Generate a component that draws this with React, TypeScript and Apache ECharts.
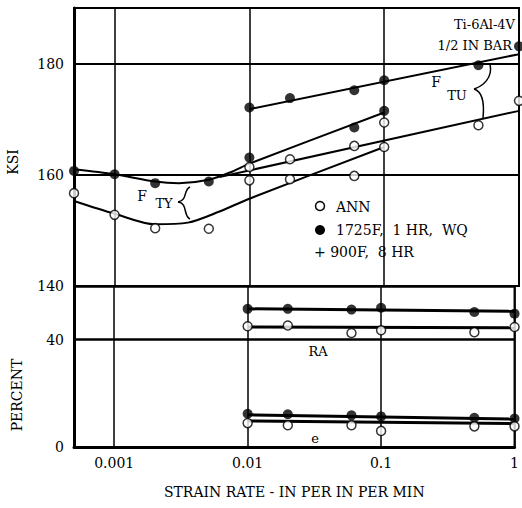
import React, { useEffect, useRef } from 'react';
import * as echarts from 'echarts';

// ---- Strength (KSI) data ----
const ftuHtRate = [0.01, 0.02, 0.06, 0.1, 0.5, 1];
const ftuHtKsi = [172.1, 173.8, 175.2, 177.0, 179.7, 183.1];
const ftyHtRate = [0.0005, 0.001, 0.002, 0.005, 0.01, 0.06, 0.1];
const ftyHtKsi = [160.7, 160.1, 158.5, 158.8, 163.1, 168.5, 171.5];
const ftuAnnRate = [0.01, 0.02, 0.06, 0.1, 0.5, 1];
const ftuAnnKsi = [161.4, 162.8, 165.2, 169.4, 168.9, 173.3];
const ftyAnnRate = [0.0005, 0.001, 0.002, 0.005, 0.01, 0.02, 0.06, 0.1];
const ftyAnnKsi = [156.7, 152.8, 150.4, 150.3, 159.0, 159.2, 159.8, 165.0];

// ---- Faired curves (KSI) ----
const ftuHtFitRate = [0.01, 1];
const ftuHtFitKsi = [171.8, 181.7];
const ftyHtFitRate = [0.0005, 0.001, 0.002, 0.003, 0.005, 0.0075, 0.01, 0.1];
const ftyHtFitKsi = [161.0, 160.1, 158.8, 158.5, 159.1, 160.6, 162.0, 171.2];
const ftuAnnFitRate = [0.006, 1];
const ftuAnnFitKsi = [159.6, 171.5];
const ftyAnnFitRate = [0.0005, 0.001, 0.002, 0.0035, 0.006, 0.01, 0.1];
const ftyAnnFitKsi = [155.3, 153.0, 151.1, 151.4, 153.4, 155.7, 165.0];

// ---- Ductility (PERCENT) data ----
const ductRate = [0.01, 0.02, 0.06, 0.1, 0.5, 1];
const raHt = [51.5, 51.5, 51.2, 51.9, 50.3, 49.7];
const raAnn = [45.0, 45.3, 42.5, 43.5, 42.8, 44.7];
const elHt = [12.4, 12.2, 11.8, 11.4, 10.9, 10.6];
const elAnn = [8.9, 8.1, 8.1, 6.0, 7.7, 7.7];
const ductFitRate = [0.01, 1];
const raHtFit = [51.5, 50.6];
const raAnnFit = [44.7, 44.4];
const elHtFit = [12.0, 10.4];
const elAnnFit = [9.7, 8.7];

// ---- Tick labels ----
const xTickLabels: Record<string, string> = { '-3': '0.001', '-2': '0.01', '-1': '0.1', '0': '1' };
const ksiTicks = [140, 160, 180];
const pctTicks = [0, 40];

const FONT = 'DejaVu Serif';

const zip = (xs: number[], ys: number[]) => xs.map((x, i) => [x, ys[i]]);

function fit(xs: number[], ys: number[], gi: number, width: number, smooth: number | boolean = false) {
  return {
    type: 'line',
    xAxisIndex: gi,
    yAxisIndex: gi,
    data: zip(xs, ys),
    symbol: 'none',
    showSymbol: false,
    smooth,
    silent: true,
    lineStyle: { color: '#000', width },
    z: 3,
  };
}

function dots(xs: number[], ys: number[], gi: number, filled: boolean) {
  return {
    type: 'scatter',
    xAxisIndex: gi,
    yAxisIndex: gi,
    data: zip(xs, ys),
    symbol: 'circle',
    symbolSize: filled ? 10 : 9,
    itemStyle: filled
      ? { color: '#000' }
      : { color: '#fff', borderColor: '#000', borderWidth: 1.5 },
    z: 5,
  };
}

function txt(text: string, x: number, y: number, size: number, align = 'left', rotation = 0) {
  return {
    type: 'text',
    x,
    y,
    rotation,
    z: 10,
    style: {
      text,
      x: 0,
      y: 0,
      fill: '#000',
      fontFamily: FONT,
      fontSize: size,
      align,
      textAlign: align,
      verticalAlign: 'middle',
      textVerticalAlign: 'middle',
    },
  };
}

function curve(x1: number, y1: number, cpx1: number, cpy1: number, cpx2: number, cpy2: number, x2: number, y2: number) {
  return {
    type: 'bezierCurve',
    z: 10,
    shape: { x1, y1, cpx1, cpy1, cpx2, cpy2, x2, y2 },
    style: { stroke: '#000', lineWidth: 1.5, fill: null },
  };
}

export default function App() {
  const ref = useRef<HTMLDivElement>(null);
  useEffect(() => {
    if (!ref.current) return;
    const chart = echarts.init(ref.current, undefined, { renderer: 'svg' });
    const labelStyle = { color: '#000', fontFamily: FONT, fontSize: 14 };
    const xBase = {
      type: 'log',
      logBase: 10,
      min: 0.0005,
      max: 1,
      axisTick: { show: false },
    };
    chart.setOption({
      animation: false,
      backgroundColor: '#fff',
      grid: [
        { left: 74, right: 3, top: 8, height: 278, show: true, borderColor: '#000', borderWidth: 2 },
        { left: 74, right: 3, top: 286, height: 161, show: true, borderColor: '#000', borderWidth: 2 },
      ],
      xAxis: [
        {
          ...xBase,
          gridIndex: 0,
          axisLine: { show: false },
          axisLabel: { show: false },
          splitLine: { show: true, lineStyle: { color: '#000', width: 1.5 } },
        },
        {
          ...xBase,
          gridIndex: 1,
          axisLine: { show: true, onZero: false, lineStyle: { color: '#000', width: 3 } },
          axisLabel: {
            ...labelStyle,
            margin: 9,
            formatter: (v: number) => {
              const l = Math.log10(v);
              const r = Math.round(l);
              return Math.abs(l - r) < 1e-6 ? xTickLabels[String(r)] || '' : '';
            },
          },
          splitLine: { show: true, lineStyle: { color: '#000', width: 1.5 } },
          name: 'STRAIN RATE - IN PER IN PER MIN',
          nameLocation: 'middle',
          nameGap: 38,
          nameTextStyle: { ...labelStyle },
        },
      ],
      yAxis: [
        {
          type: 'value',
          gridIndex: 0,
          min: 140,
          max: 190,
          interval: 20,
          axisLine: { show: true, lineStyle: { color: '#000', width: 3 } },
          axisTick: { show: false },
          axisLabel: {
            ...labelStyle,
            margin: 10,
            formatter: (v: number) => (ksiTicks.includes(v) ? String(v) : ''),
          },
          splitLine: { show: true, lineStyle: { color: '#000', width: 2 } },
        },
        {
          type: 'value',
          gridIndex: 1,
          min: 0,
          max: 60,
          interval: 40,
          axisLine: { show: true, lineStyle: { color: '#000', width: 3 } },
          axisTick: { show: false },
          axisLabel: {
            ...labelStyle,
            margin: 10,
            formatter: (v: number) => (pctTicks.includes(v) ? String(v) : ''),
          },
          splitLine: { show: true, lineStyle: { color: '#000', width: 2.5 } },
        },
      ],
      series: [
        fit(ftuHtFitRate, ftuHtFitKsi, 0, 2),
        fit(ftyHtFitRate, ftyHtFitKsi, 0, 2, 0.3),
        fit(ftuAnnFitRate, ftuAnnFitKsi, 0, 2),
        fit(ftyAnnFitRate, ftyAnnFitKsi, 0, 2, 0.3),
        dots(ftuHtRate, ftuHtKsi, 0, true),
        dots(ftyHtRate, ftyHtKsi, 0, true),
        dots(ftuAnnRate, ftuAnnKsi, 0, false),
        dots(ftyAnnRate, ftyAnnKsi, 0, false),
        fit(ductFitRate, raHtFit, 1, 3),
        fit(ductFitRate, raAnnFit, 1, 3),
        fit(ductFitRate, elHtFit, 1, 3),
        fit(ductFitRate, elAnnFit, 1, 3),
        dots(ductRate, raHt, 1, true),
        dots(ductRate, raAnn, 1, false),
        dots(ductRate, elHt, 1, true),
        dots(ductRate, elAnn, 1, false),
      ],
      graphic: [
        txt('KSI', 13, 162, 14, 'center', Math.PI / 2),
        txt('PERCENT', 17, 395, 14, 'center', Math.PI / 2),
        txt('Ti-6Al-4V', 515, 24, 13, 'right'),
        txt('1/2 IN BAR', 512, 45, 13, 'right'),
        { type: 'circle', z: 10, shape: { cx: 320, cy: 206, r: 4.5 }, style: { fill: '#fff', stroke: '#000', lineWidth: 1.5 } },
        txt('ANN', 336, 207, 14),
        { type: 'circle', z: 10, shape: { cx: 320, cy: 230, r: 5 }, style: { fill: '#000' } },
        txt('1725F,  1 HR,  WQ', 336, 230, 14),
        txt('+ 900F,  8 HR', 314, 252, 14),
        txt('F', 142, 196, 14, 'center'),
        txt('TY', 164, 203, 13, 'center'),
        curve(190, 187, 183, 190, 188, 200, 178, 202),
        curve(178, 202, 188, 203, 183, 216, 190, 219),
        txt('F', 436, 82, 14, 'center'),
        txt('TU', 457, 95, 13, 'center'),
        curve(490, 64, 493, 78, 483, 86, 474, 89),
        curve(474, 89, 484, 92, 484, 108, 483, 118),
        txt('RA', 318, 351, 13, 'center'),
        txt('e', 315, 438, 13, 'center'),
      ],
    });
    return () => chart.dispose();
  }, []);
  return (
    <div
      ref={ref}
      style={{ position: 'fixed', left: 0, top: 0, width: 522, height: 508, background: '#fff' }}
    />
  );
}
